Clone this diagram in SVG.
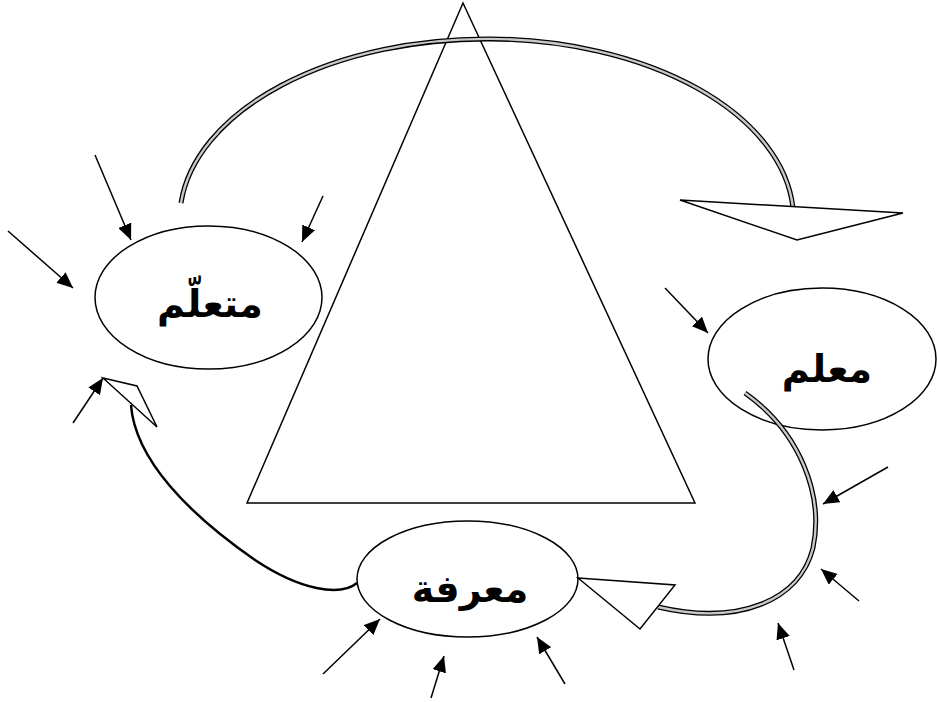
<svg xmlns="http://www.w3.org/2000/svg" width="937" height="702" viewBox="0 0 937 702">
  <style>
    .node { fill: #fff; stroke: #000; stroke-width: 1.5; }
    .label { font-family: "DejaVu Sans", sans-serif; font-weight: bold; font-size: 38px; fill: #000; text-anchor: middle; }
    .tri { fill: none; stroke: #000; stroke-width: 1.5; }
    .ray { stroke: #000; stroke-width: 1.5; fill: none; marker-end: url(#head); }
    .band-out { fill: none; stroke: #000; stroke-width: 5; stroke-linecap: butt; }
    .band-in { fill: none; stroke: #c8c8c8; stroke-width: 2.4; stroke-linecap: butt; }
    .open-head { fill: #fff; stroke: #000; stroke-width: 1.5; stroke-linejoin: miter; }
  </style>
  <defs>
    <marker id="head" markerUnits="userSpaceOnUse" markerWidth="18" markerHeight="14" refX="16" refY="7" orient="auto">
      <path d="M0,0 L16,7 L0,14 Z" fill="#000"/>
    </marker>
  </defs>
  <rect width="937" height="702" fill="#fff"/>

  <!-- central triangle -->
  <polygon class="tri" points="463,3 247,503 695,503"/>

  <g id="learner">
    <ellipse class="node" cx="208.5" cy="297.5" rx="113.5" ry="71.5"/>
    <text class="label" x="210" y="317">متعلّم</text>
  </g>

  <g id="teacher">
    <ellipse class="node" cx="822" cy="359" rx="114" ry="71"/>
    <text class="label" x="827" y="382">معلم</text>
  </g>

  <g id="knowledge">
    <ellipse class="node" cx="467.5" cy="579" rx="110.5" ry="58"/>
    <text class="label" x="470" y="602">معرفة</text>
  </g>

  <g id="connectors">
    <!-- learner to teacher: upper banded arc -->
    <path class="band-out" d="M181,203 A307,181 0 0 1 793,208"/>
    <path class="band-in" d="M181,203 A307,181 0 0 1 793,208"/>
    <polygon class="open-head" points="680,200 903,213 797,240"/>

    <!-- teacher to knowledge: right banded curve -->
    <path class="band-out" d="M745,393 C800,432 824,495 813,548 C800,600 740,626 658,607"/>
    <path class="band-in" d="M745,393 C800,432 824,495 813,548 C800,600 740,626 658,607"/>
    <polygon class="open-head" points="578,578 675,585 640,629"/>

    <!-- knowledge to learner: left curve -->
    <path d="M357,583 C340,597 300,590 255,560 C190,515 135,460 131,405" fill="none" stroke="#000" stroke-width="2.5"/>
    <polygon class="open-head" points="103,378 137,386 157,427"/>

    <!-- incoming arrows around the learner -->
    <line class="ray" x1="95" y1="155" x2="131" y2="240"/>
    <line class="ray" x1="323" y1="196" x2="302" y2="242"/>
    <line class="ray" x1="8" y1="231" x2="73" y2="288"/>
    <line class="ray" x1="73" y1="423" x2="103" y2="378"/>

    <!-- incoming arrows around the teacher -->
    <line class="ray" x1="665" y1="288" x2="708" y2="333"/>
    <line class="ray" x1="888" y1="467" x2="823" y2="504"/>
    <line class="ray" x1="859" y1="601" x2="821" y2="569"/>
    <line class="ray" x1="794" y1="670" x2="778" y2="623"/>

    <!-- incoming arrows around knowledge -->
    <line class="ray" x1="323" y1="674" x2="380" y2="619"/>
    <line class="ray" x1="431" y1="698" x2="444" y2="656"/>
    <line class="ray" x1="565" y1="684" x2="537" y2="637"/>
  </g>
</svg>
